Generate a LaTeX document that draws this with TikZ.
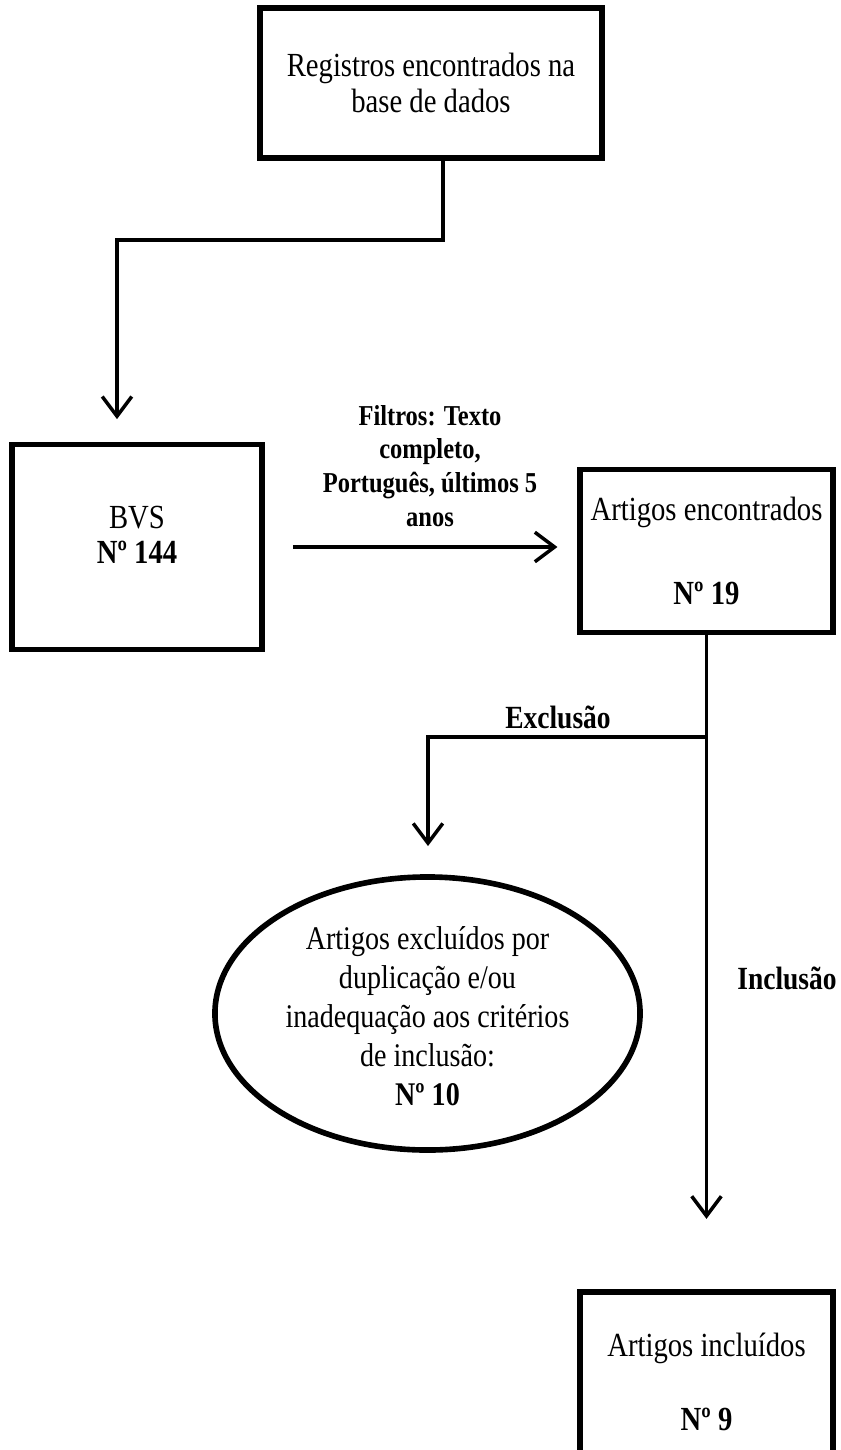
\documentclass[tikz,border=0pt]{standalone}
\usepackage{fontspec}
\setmainfont{Liberation Serif}[FakeStretch=0.85]
\usepackage{tikz}
\usetikzlibrary{arrows.meta,shapes.geometric}

\begin{document}
\begin{tikzpicture}[x=0.025cm,y=-0.025cm,
box/.style={draw,line width=4pt,inner sep=0pt,align=center,font=\fontsize{24}{25}\selectfont},
link/.style={line width=2.5pt},
arr/.style={link,-{Straight Barb[length=14pt,width=21pt]}},
lbl/.style={align=center,font=\fontsize{23}{24}\selectfont\bfseries}]
\useasboundingbox (0,0) rectangle (840,1450);
\node[box,minimum width=8.55cm,minimum height=3.75cm] (reg) at (431,83) {Registros encontrados na\\base de dados};
\node[box,minimum width=6.25cm,minimum height=5.125cm] (bvs) at (137,547) {BVS\\\textbf{Nº 144}\\[-8pt]\mbox{}};
\node[box,minimum width=6.325cm,minimum height=4.075cm] (enc) at (706.5,551) {Artigos encontrados\\[35pt]\textbf{Nº 19}};
\node[box,ellipse,inner xsep=0pt,inner ysep=-10pt,minimum width=10.625cm,minimum height=6.825cm,
font=\fontsize{23.5}{27.6}\selectfont] (exc) at (427.5,1013.5)
{\mbox{}\\[-7.6pt]Artigos excluídos por\\duplicação e/ou\\inadequação aos critérios\\de inclusão:\\\textbf{Nº 10}};
\node[box,minimum width=6.325cm,minimum height=4.5cm] (inc) at (706.5,1382) {Artigos incluídos\\[28pt]\textbf{Nº 9}};
\node[lbl,font=\fontsize{20.5}{24}\selectfont\bfseries] (fil) at (430,466) {Filtros: Texto\\completo,\\Português, últimos 5\\anos};
\node[lbl] (exl) at (558,717) {Exclusão};
\node[lbl] (inl) at (787,978) {Inclusão};
\coordinate (c1) at (443,240);
\coordinate (c2) at (117,240);
\coordinate (br) at (707,737);
\coordinate (bl) at (428,737);
\draw[arr,shorten >=16pt] (reg.south -| c1) -- (c1) -- (c2) -- (c2 |- bvs.north);
\draw[arr,shorten <=20pt,shorten >=14pt] (bvs.east) -- (bvs.east -| enc.west);
\draw[arr,shorten >=20pt] (br) -- (bl) -- (bl |- exc.north);
\draw[arr,shorten >=50pt] (enc.south) -- (inc.north);
\end{tikzpicture}
\end{document}
